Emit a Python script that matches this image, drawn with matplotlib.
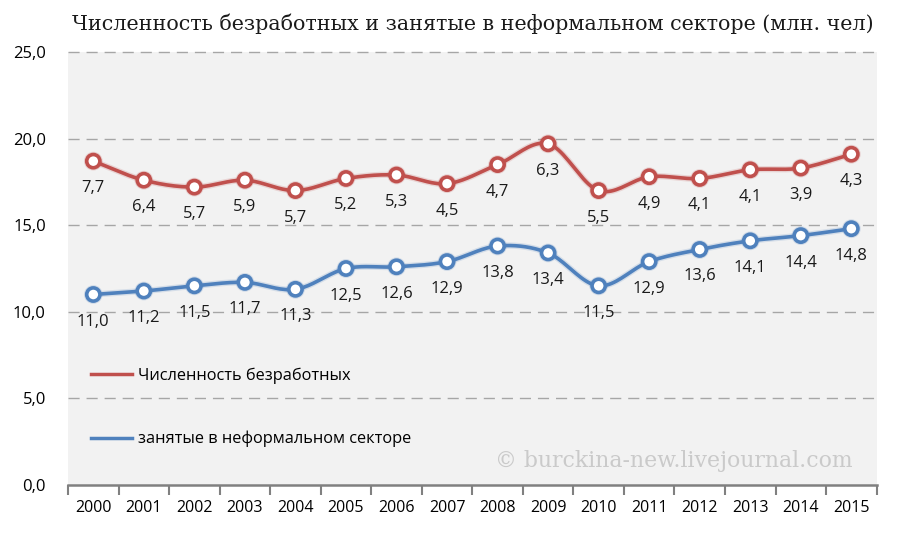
import numpy as np
import matplotlib
matplotlib.use("Agg")
import matplotlib.pyplot as plt
from matplotlib.lines import Line2D
import matplotlib.patheffects as pe

years = [str(y) for y in range(2000, 2016)]
informal = [11.0, 11.2, 11.5, 11.7, 11.3, 12.5, 12.6, 12.9, 13.8, 13.4, 11.5, 12.9, 13.6, 14.1, 14.4, 14.8]
unemployed = [7.7, 6.4, 5.7, 5.9, 5.7, 5.2, 5.3, 4.5, 4.7, 6.3, 5.5, 4.9, 4.1, 4.1, 3.9, 4.3]

red = "#c0504d"
blue = "#4f81bd"


def smooth(x, y, n=20):
    # Excel-style smoothing (Catmull-Rom through the points)
    x = np.asarray(x, float)
    y = np.asarray(y, float)
    px = np.concatenate([[2 * x[0] - x[1]], x, [2 * x[-1] - x[-2]]])
    py = np.concatenate([[2 * y[0] - y[1]], y, [2 * y[-1] - y[-2]]])
    xs, ys = [], []
    t = np.linspace(0, 1, n, endpoint=False)
    for i in range(1, len(px) - 2):
        for p, out in ((px, xs), (py, ys)):
            p0, p1, p2, p3 = p[i - 1], p[i], p[i + 1], p[i + 2]
            out.extend(0.5 * (2 * p1 + (-p0 + p2) * t + (2 * p0 - 5 * p1 + 4 * p2 - p3) * t ** 2
                              + (-p0 + 3 * p1 - 3 * p2 + p3) * t ** 3))
    xs.append(x[-1])
    ys.append(y[-1])
    return np.array(xs), np.array(ys)


x = np.arange(len(years))
total = np.array(informal) + np.array(unemployed)

fig = plt.figure(figsize=(9, 5.33), dpi=100)
ax = fig.add_axes([0.0756, 0.090, 0.8984, 0.8124])
ax.set_facecolor("#f2f2f2")

for yv, col in ((total, red), (informal, blue)):
    sx, sy = smooth(x, yv)
    ax.plot(sx, sy, color=col, lw=2.6, zorder=3, solid_capstyle="round",
            path_effects=[pe.Stroke(linewidth=4.5, foreground=col, alpha=0.18), pe.Normal()])
    ax.plot(x, yv, ls="none", marker="o", ms=9.5, mfc="white", mec=col, mew=2.6, zorder=4,
            path_effects=[pe.Stroke(linewidth=4, foreground=col, alpha=0.2), pe.Normal()])

for xi, tv, uv, iv in zip(x, total, unemployed, informal):
    ax.annotate(f"{uv:.1f}".replace(".", ","), (xi, tv), xytext=(0, -27), textcoords="offset pixels",
                ha="center", va="center", fontsize=12, family="Open Sans", color="#1a1a1a", zorder=5)
    ax.annotate(f"{iv:.1f}".replace(".", ","), (xi, iv), xytext=(0, -27), textcoords="offset pixels",
                ha="center", va="center", fontsize=12, family="Open Sans", color="#1a1a1a", zorder=5)

ax.set_xlim(-0.5, 15.5)
ax.set_ylim(0, 25)
ax.set_yticks([0, 5, 10, 15, 20, 25])
ax.set_yticklabels([f"{v:.1f}".replace(".", ",") for v in [0, 5, 10, 15, 20, 25]],
                   fontsize=12, family="Open Sans")
ax.tick_params(axis="y", length=0, pad=16)
ax.set_xticks(np.arange(-0.5, 16, 1))
ax.set_xticklabels([])
ax.set_xticks(x, minor=True)
ax.set_xticklabels(years, minor=True, fontsize=11.5, family="Open Sans")
ax.tick_params(axis="x", which="major", length=7, width=1.5, color="#808080", direction="out")
ax.tick_params(axis="x", which="minor", length=0, pad=11)

for s in ("top", "right", "left"):
    ax.spines[s].set_visible(False)
ax.spines["bottom"].set_color("#808080")
ax.spines["bottom"].set_linewidth(1.8)

for gy in [5, 10, 15, 20, 25]:
    ax.axhline(gy, color="#a6a6a6", lw=1, dashes=(8, 5), zorder=1, clip_on=False)

handles = [Line2D([], [], color=red, lw=2.5), Line2D([], [], color=blue, lw=2.5)]
ax.legend(handles, ["Численность безработных", "занятые в неформальном секторе"],
          loc="upper left", bbox_to_anchor=(0.01, 0.305), frameon=False, handlelength=2.5,
          handletextpad=0.4, labelspacing=2.85, prop={"family": "Open Sans", "size": 11.8})

ax.text(0.97, 0.055, "© burckina-new.livejournal.com", transform=ax.transAxes, ha="right",
        va="center", fontsize=15.8, family="DejaVu Serif", color="#cacaca")

fig.text(0.525, 0.955, "Численность безработных и занятые в неформальном секторе (млн. чел)",
         ha="center", va="center", fontsize=14.9, family="DejaVu Serif", color="#1a1a1a")

fig.savefig("out.png", dpi=100)
